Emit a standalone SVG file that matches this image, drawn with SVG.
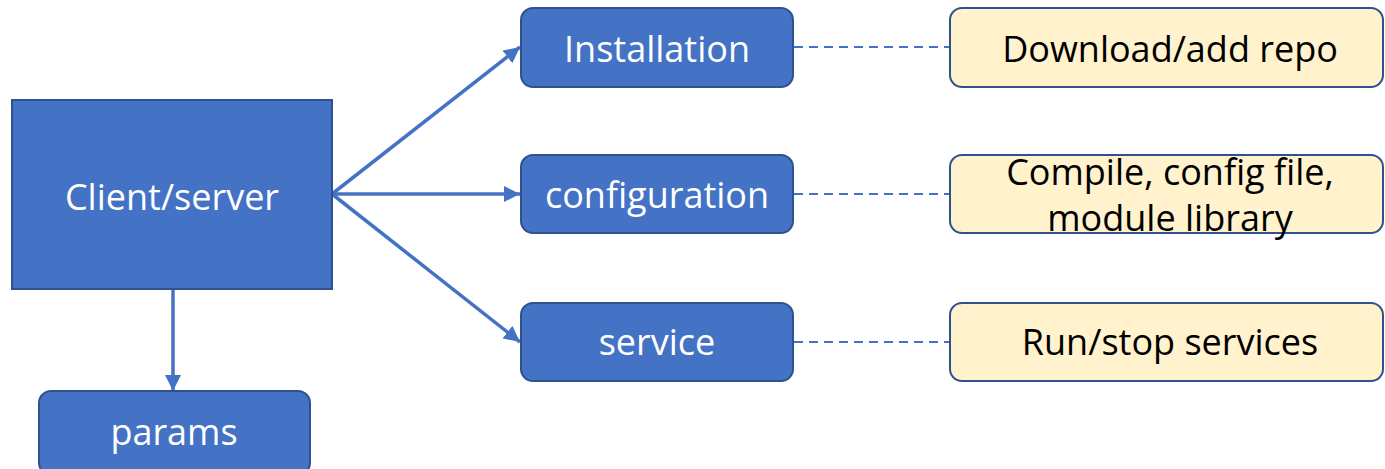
<svg xmlns="http://www.w3.org/2000/svg" width="1385" height="469" viewBox="0 0 1385 469">
<style>
.blue{fill:#4472C4;stroke:#2F528F;stroke-width:2}
.yellow{fill:#FFF2CC;stroke:#2F528F;stroke-width:2}
.wt{fill:#FFFFFF;font-family:"Open Sans",sans-serif;font-size:36px;text-anchor:middle}
.bt{fill:#000000;font-family:"Open Sans",sans-serif;font-size:36px;text-anchor:middle}
.arrow{stroke:#4472C4;stroke-width:3.5;fill:none;marker-end:url(#ah)}
.dash{stroke:#4472C4;stroke-width:2.2;fill:none;stroke-dasharray:9 6}
</style>
<defs>
<marker id="ah" markerUnits="userSpaceOnUse" markerWidth="16" markerHeight="16" viewBox="0 0 16 16" refX="16" refY="8" orient="auto">
<path d="M0,0 L16,8 L0,16 Z" fill="#4472C4"/>
</marker>
</defs>
<g id="connectors">
<line class="arrow" x1="332" y1="194" x2="520" y2="47"/>
<line class="arrow" x1="332" y1="194" x2="520" y2="194"/>
<line class="arrow" x1="332" y1="194" x2="520" y2="342"/>
<line class="arrow" x1="173" y1="290" x2="173" y2="391"/>
<line class="dash" x1="794" y1="47" x2="950" y2="47"/>
<line class="dash" x1="794" y1="194" x2="950" y2="194"/>
<line class="dash" x1="794" y1="342" x2="950" y2="342"/>
</g>
<g id="client">
<rect class="blue" x="12" y="100" width="320" height="189"/>
<text class="wt" x="172" y="210">Client/server</text>
</g>
<g id="installation">
<rect class="blue" x="521" y="8" width="272" height="79" rx="12"/>
<text class="wt" x="657" y="62">Installation</text>
</g>
<g id="configuration">
<rect class="blue" x="521" y="155" width="272" height="78" rx="12"/>
<text class="wt" x="657" y="208">configuration</text>
</g>
<g id="service">
<rect class="blue" x="521" y="303" width="272" height="78" rx="12"/>
<text class="wt" x="657" y="355">service</text>
</g>
<g id="params">
<rect class="blue" x="39" y="391" width="271" height="84" rx="12"/>
<text class="wt" x="174" y="445">params</text>
</g>
<g id="download">
<rect class="yellow" x="950" y="8" width="433" height="79" rx="12"/>
<text class="bt" x="1170" y="62">Download/add repo</text>
</g>
<g id="compile">
<rect class="yellow" x="950" y="155" width="433" height="78" rx="12"/>
<text class="bt" x="1170" y="185">Compile, config file,</text>
<text class="bt" x="1170" y="231">module library</text>
</g>
<g id="runstop">
<rect class="yellow" x="950" y="303" width="433" height="78" rx="12"/>
<text class="bt" x="1170" y="355">Run/stop services</text>
</g>
</svg>
